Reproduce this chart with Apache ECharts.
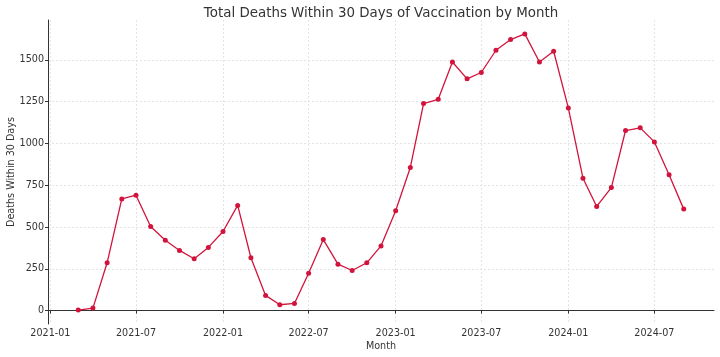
<!DOCTYPE html>
<html><head><meta charset="utf-8">
<script src="https://cdn.jsdelivr.net/npm/echarts@6/dist/echarts.min.js"></script>
<style>html,body{margin:0;padding:0;background:#fff}#c{width:720px;height:357px}</style>
</head><body><div id="c"></div>
<script>
const months = ["2021-03","2021-04","2021-05","2021-06","2021-07","2021-08","2021-09","2021-10","2021-11","2021-12",
"2022-01","2022-02","2022-03","2022-04","2022-05","2022-06","2022-07","2022-08","2022-09","2022-10","2022-11","2022-12",
"2023-01","2023-02","2023-03","2023-04","2023-05","2023-06","2023-07","2023-08","2023-09","2023-10","2023-11","2023-12",
"2024-01","2024-02","2024-03","2024-04","2024-05","2024-06","2024-07","2024-08","2024-09"];
const deaths = [3,15,286,668,690,503,421,360,310,378,
473,629,316,91,35,43,224,425,278,240,286,387,
597,856,1238,1264,1487,1386,1424,1557,1621,1655,1487,1551,
1212,792,623,736,1077,1093,1009,812,607];
const xTicks = ["2021-01","2021-07","2022-01","2022-07","2023-01","2023-07","2024-01","2024-07"];
const yTicks = [0,250,500,750,1000,1250,1500];

const ts = s => { const [y,m] = s.split('-').map(Number); return Date.UTC(y, m-1, 1); };
const fmt = v => { const d = new Date(v); return d.getUTCFullYear() + '-' + String(d.getUTCMonth()+1).padStart(2,'0'); };
const font = 'DejaVu Sans';
const chart = echarts.init(document.getElementById('c'));
chart.setOption({
  animation:false,
  textStyle:{fontFamily:font},
  title:{text:'Total Deaths Within 30 Days of Vaccination by Month', left:376, textAlign:'center', top:2,
    textStyle:{fontFamily:font,fontSize:13.4,fontWeight:'normal',color:'#333'}},
  grid:{left:48,right:6,top:20,bottom:33,containLabel:false,outerBoundsMode:'none'},
  xAxis:{type:'value', min:Date.UTC(2020,11,27), max:Date.UTC(2024,10,4),
    name:'Month', nameLocation:'middle', nameGap:17, nameMoveOverlap:false, nameTextStyle:{fontFamily:font,fontSize:9.6,color:'#333'},
    axisLine:{show:true,lineStyle:{color:'#333',width:1}},
    axisTick:{show:true,length:3,customValues:xTicks.map(ts),lineStyle:{color:'#333'}},
    axisLabel:{customValues:xTicks.map(ts),formatter:v=>fmt(v),fontFamily:font,fontSize:9.6,color:'#333',margin:4},
    splitLine:{show:true,lineStyle:{color:'#ddd',type:[2,2],width:0.8}}},
  yAxis:{type:'value', min:-80, max:1738,
    name:'Deaths Within 30 Days', nameLocation:'middle', nameGap:32, nameMoveOverlap:false, nameTextStyle:{fontFamily:font,fontSize:9.6,color:'#333'},
    axisLine:{show:true,lineStyle:{color:'#333',width:1}},
    axisTick:{show:true,length:3,customValues:yTicks,lineStyle:{color:'#333'}},
    axisLabel:{customValues:yTicks,formatter:v=>String(v),fontFamily:font,fontSize:9.6,color:'#333',margin:4},
    splitLine:{show:true,lineStyle:{color:'#ddd',type:[2,2],width:0.8}}},
  series:[{type:'line', data:months.map((m,i)=>[ts(m),deaths[i]]),
    symbol:'circle', symbolSize:5, lineStyle:{color:'#d2143c',width:1.3},
    itemStyle:{color:'#d2143c'}}]
});
</script></body></html>
